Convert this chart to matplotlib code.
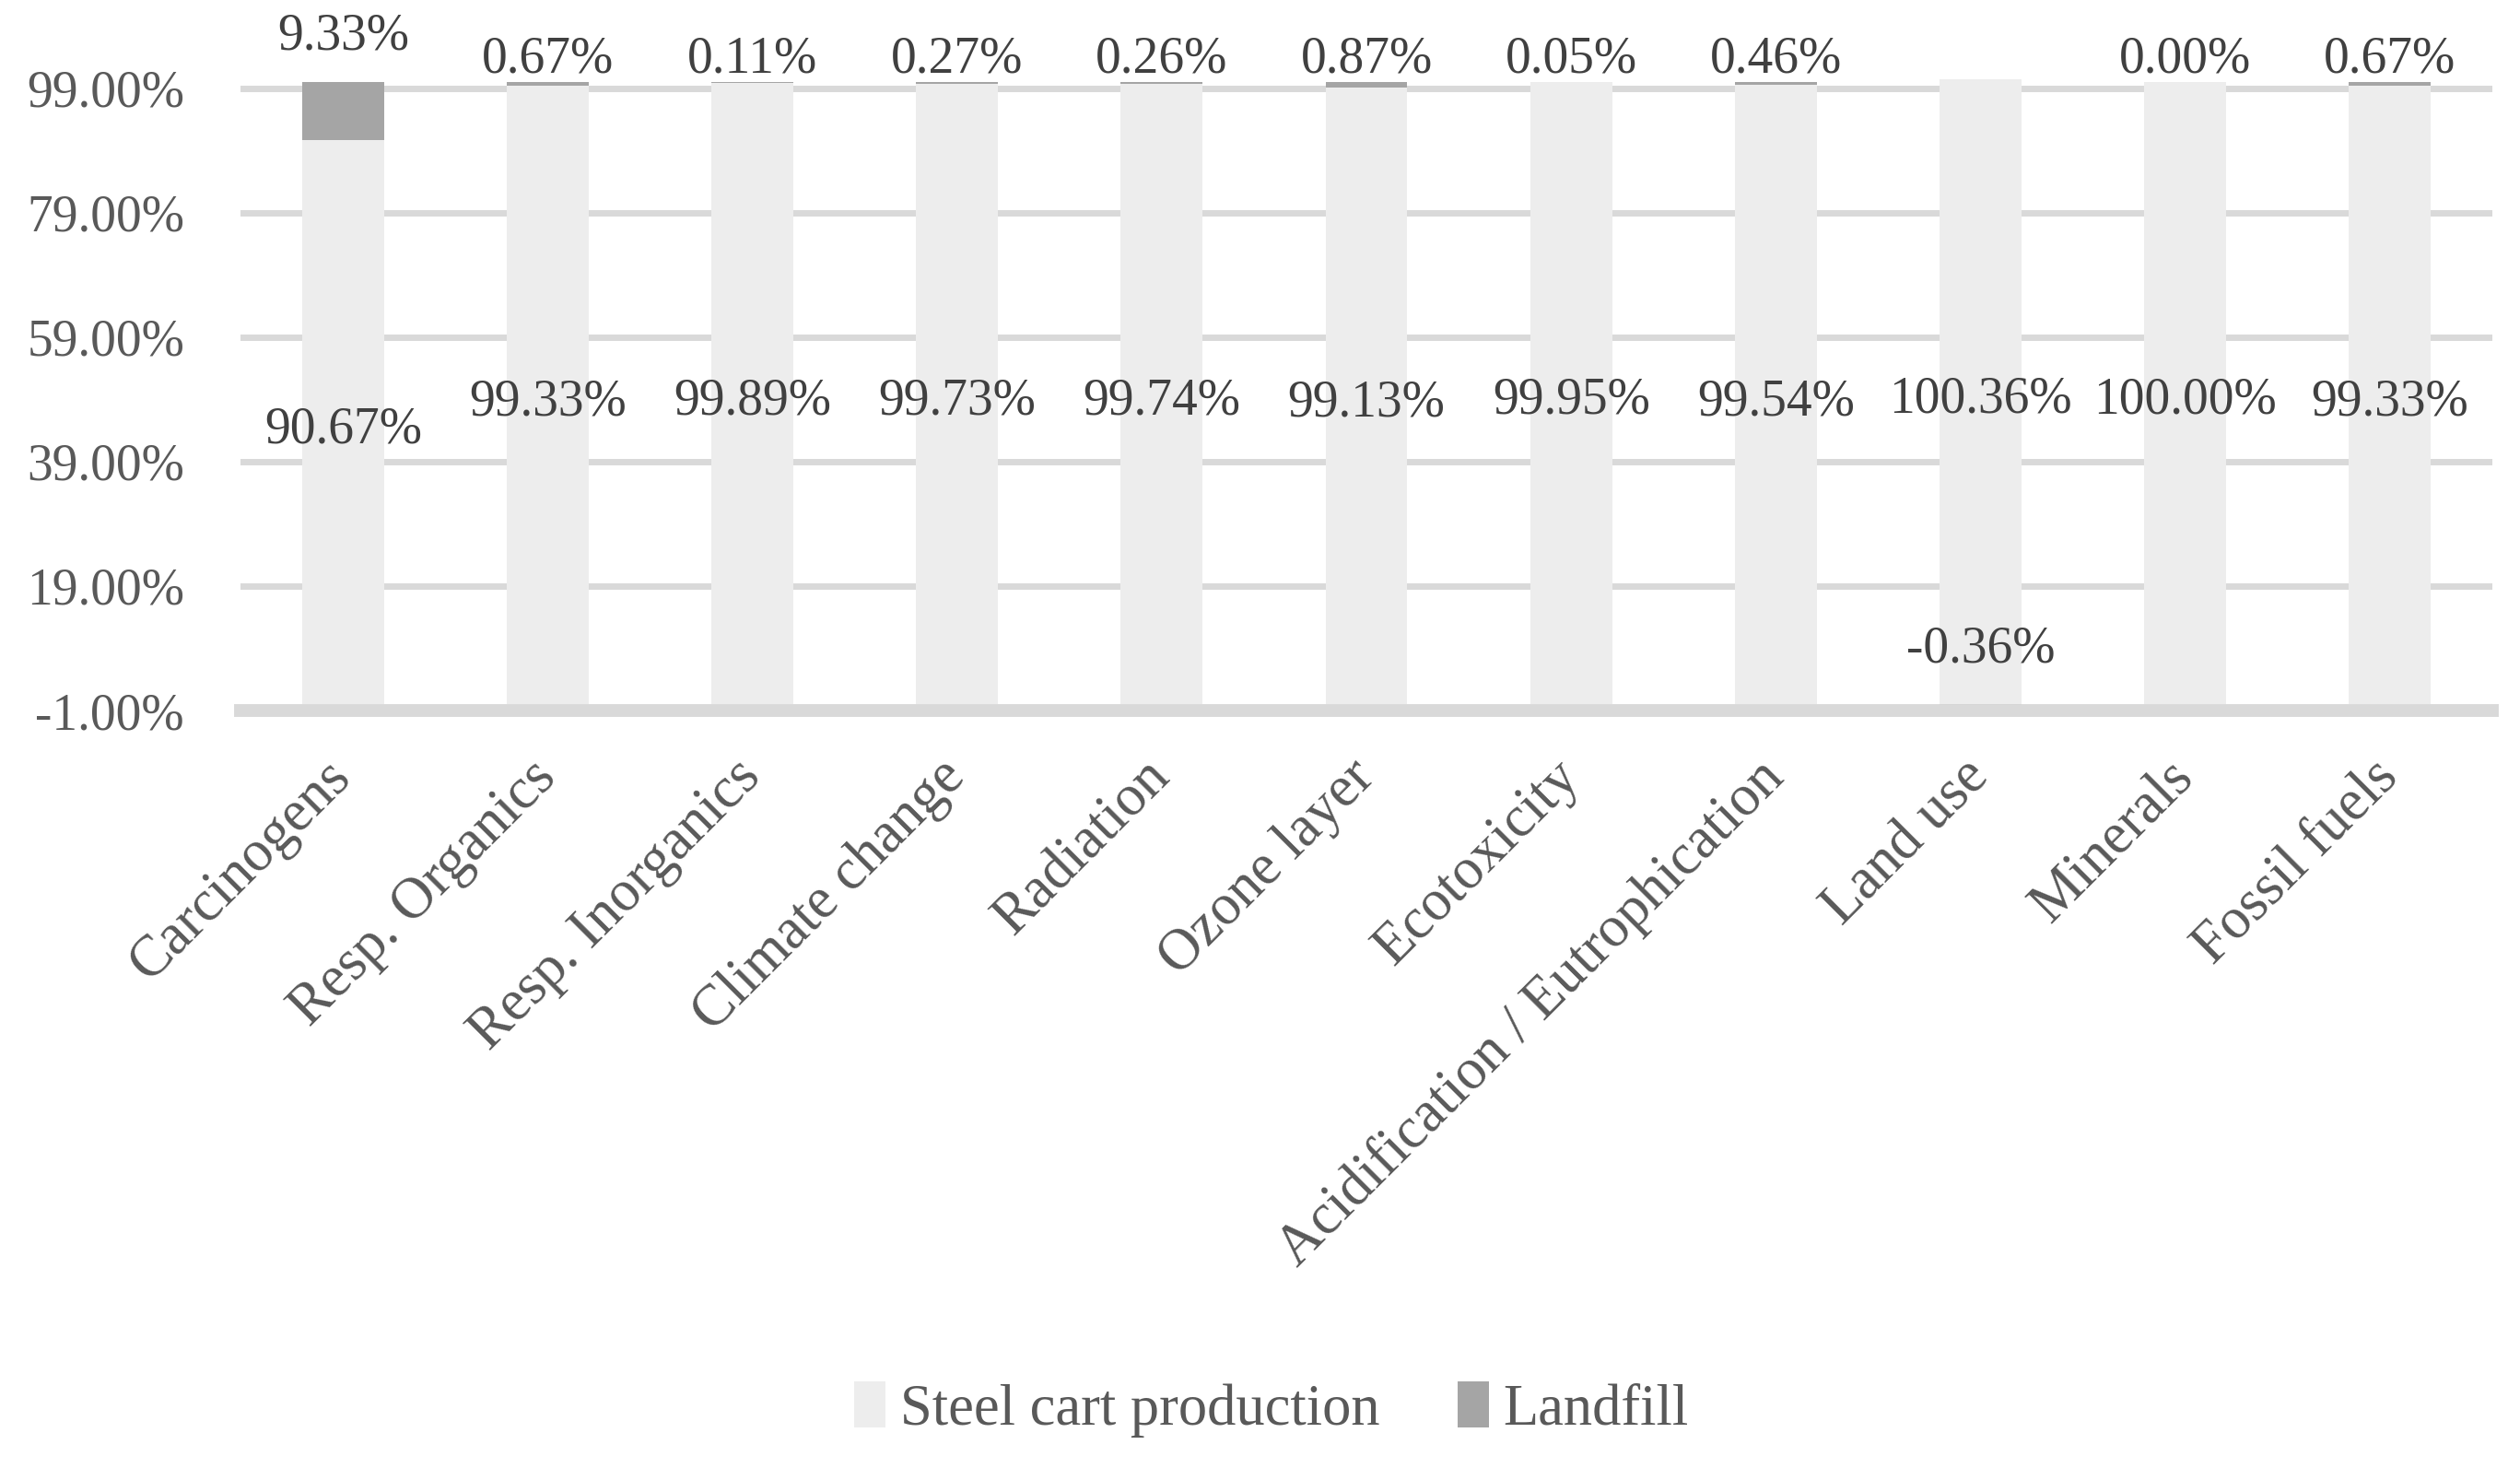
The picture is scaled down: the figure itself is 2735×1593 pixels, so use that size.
import matplotlib
matplotlib.use("Agg")
import matplotlib.pyplot as plt
from matplotlib.ticker import FuncFormatter

plt.rcParams['font.family'] = ['Liberation Serif', 'DejaVu Serif']

categories = ['Carcinogens', 'Resp. Organics', 'Resp. Inorganics', 'Climate change',
              'Radiation', 'Ozone layer', 'Ecotoxicity', 'Acidification / Eutrophication',
              'Land use', 'Minerals', 'Fossil fuels']
steel = [90.67, 99.33, 99.89, 99.73, 99.74, 99.13, 99.95, 99.54, 100.36, 100.00, 99.33]
landfill = [9.33, 0.67, 0.11, 0.27, 0.26, 0.87, 0.05, 0.46, -0.36, 0.00, 0.67]
yticks = [-1, 19, 39, 59, 79, 99]

c_steel = '#EDEDED'
c_land = '#A5A5A5'
c_grid = '#D9D9D9'
c_tick = '#595959'
c_lab = '#404040'
fs = 20

fig = plt.figure(figsize=(13.675, 7.965), dpi=200)
ax = fig.add_axes([0.0955, 0.5109, 0.8935, 0.4359])

x = list(range(len(categories)))
w = 0.4
ax.bar(x, steel, w, color=c_steel, zorder=3, label='Steel cart production')
bott = [s if lf >= 0 else 0 for s, lf in zip(steel, landfill)]
ax.bar(x, landfill, w, bottom=bott, color=c_land, zorder=3, label='Landfill')

ax.set_xlim(-0.5, len(categories) - 0.5)
ax.set_ylim(-2.2, 100.6)
ax.set_yticks(yticks)
ax.yaxis.set_major_formatter(FuncFormatter(lambda v, p: '%.2f%%' % v))
for t in yticks[1:]:
    ax.axhline(t, color=c_grid, lw=2.5, zorder=1)
ax.axhline(-1, color=c_grid, lw=5, zorder=4, clip_on=False)

for s in ax.spines.values():
    s.set_visible(False)
ax.tick_params(axis='both', length=0, labelsize=fs, colors=c_tick)
ax.tick_params(axis='y', pad=22)
ax.set_xticks(x)
ax.set_xticklabels(categories, rotation=45, ha='right', va='center',
                   rotation_mode='anchor', fontsize=22.5)
ax.tick_params(axis='x', pad=20)

# data labels
for i, (s, lf) in enumerate(zip(steel, landfill)):
    ax.text(i, s / 2 - 1.2, '%.2f%%' % s, ha='center', va='center',
            fontsize=fs, color=c_lab, zorder=5)
    if lf < 0:
        ly = 8.8
    elif lf > 5:
        ly = 107.3
    else:
        ly = 103.6
    ax.text(i, ly, '%.2f%%' % lf, ha='center', va='center',
            fontsize=fs, color=c_lab, zorder=5, clip_on=False)

fig.legend(loc='center', bbox_to_anchor=(0.5045, 0.040), ncol=2, frameon=False,
           fontsize=22.5, handlelength=0.55, handleheight=0.85, handletextpad=0.25,
           columnspacing=1.35, labelcolor=c_tick)

fig.savefig('out.png', dpi=200, facecolor='white')
